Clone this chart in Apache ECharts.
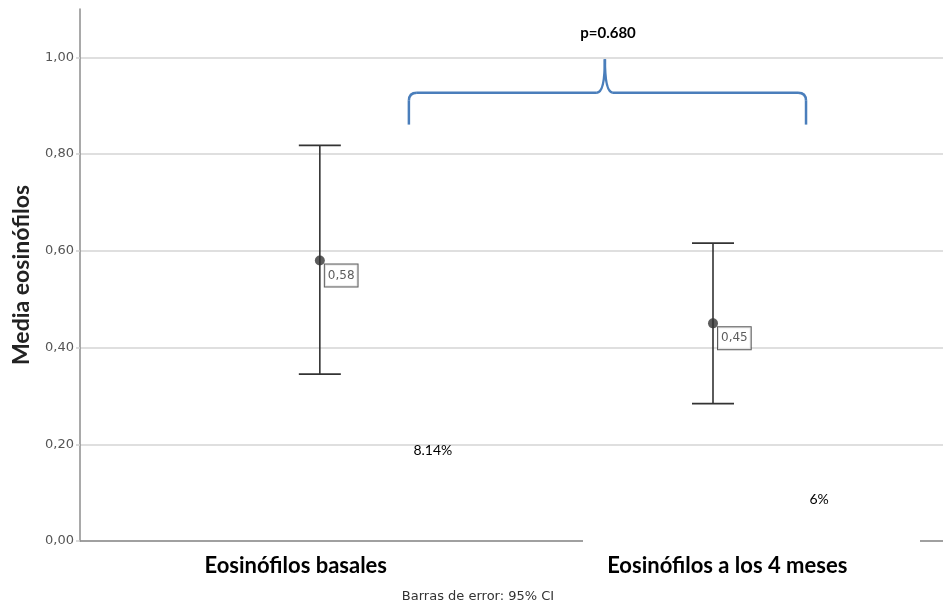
<!DOCTYPE html>
<html><head><meta charset="utf-8">
<script src="https://cdn.jsdelivr.net/npm/echarts@6/dist/echarts.min.js"></script>
<style>html,body{margin:0;padding:0;background:#fff}#c{width:943px;height:607px}</style>
</head><body><div id="c"></div><script>
// ---- data ----
const categories = ['Eosinófilos basales', 'Eosinófilos a los 4 meses'];
const pointPos = [1, 2];              // position of each group on the hidden point axis
const means = [0.58, 0.45];
const ciLow = [0.345, 0.284];
const ciHigh = [0.818, 0.616];
const meanLabels = ['0,58', '0,45'];
const yMin = 0, yMax = 1.1, yStep = 0.2;
const notes = ['8.14%', '6%'];
const notePos = [[1.2875, 0.187], [2.27, 0.085]];
const pText = 'p=0.680';
const pPos = [1.733, 1.05];
const braceX = [1.2265, 1.725, 2.2366]; // left, centre, right
const braceY = [0.861, 0.927, 0.996];   // ends, bar, tip
const footnote = 'Barras de error: 95% CI';
const yTitle = 'Media eosinófilos';

const chart = echarts.init(document.getElementById('c'), null, {renderer: 'canvas'});
const errData = pointPos.map((p, i) => [p, ciLow[i], ciHigh[i]]);
const dotData = pointPos.map((p, i) => ({value: [p, means[i]], label: {formatter: meanLabels[i]}}));

chart.setOption({
  animation: false,
  grid: {left: 80, right: 0, top: 9, bottom: 66},
  xAxis: [{
    type: 'category', data: categories, boundaryGap: true,
    axisLine: {lineStyle: {color: '#8c8c8c', width: 1.5}},
    axisTick: {show: false},
    axisLabel: {color: '#000', fontFamily: 'Lato', fontWeight: 'bold', fontSize: 22, margin: 14}
  }, {
    type: 'value', min: 0.39, max: 2.585, show: false
  }],
  yAxis: {
    type: 'value', min: yMin, max: yMax, interval: yStep,
    name: yTitle, nameLocation: 'middle', nameGap: 47, nameRotate: 90,
    nameTextStyle: {color: '#222', fontFamily: 'Lato', fontWeight: 'bold', fontSize: 23},
    axisLine: {show: true, lineStyle: {color: '#8c8c8c', width: 1.5}},
    axisTick: {show: true, length: 4, lineStyle: {color: '#cfcfcf', width: 1.5}},
    axisLabel: {color: '#555', fontFamily: 'DejaVu Sans', fontSize: 13, margin: 6,
      showMaxLabel: false,
      formatter: v => v > 1.05 ? '' : v.toFixed(2).replace('.', ',')},
    splitLine: {show: true, showMaxLine: false, lineStyle: {color: '#d4d4d4', width: 1.5}}
  },
  series: [{
    type: 'custom', xAxisIndex: 1, data: errData,
    renderItem: (params, api) => {
      const top = api.coord([api.value(0), api.value(2)]);
      const bot = api.coord([api.value(0), api.value(1)]);
      const hw = 21;
      const st = {stroke: '#333', lineWidth: 1.6};
      return {type: 'group', children: [
        {type: 'line', shape: {x1: top[0], y1: top[1], x2: bot[0], y2: bot[1]}, style: st},
        {type: 'line', shape: {x1: top[0]-hw, y1: top[1], x2: top[0]+hw, y2: top[1]}, style: st},
        {type: 'line', shape: {x1: bot[0]-hw, y1: bot[1], x2: bot[0]+hw, y2: bot[1]}, style: st}
      ]};
    }
  }, {
    type: 'scatter', xAxisIndex: 1, data: dotData, symbolSize: 10, z: 5,
    itemStyle: {color: '#333'},
    label: {show: true, position: [10, 9], color: '#333', fontFamily: 'DejaVu Sans', fontSize: 12,
      backgroundColor: '#fff', borderColor: '#333', borderWidth: 1, padding: [5, 3, 5, 3]}
  }]
});

function px(x, y) { return chart.convertToPixel({xAxisIndex: 1, yAxisIndex: 0}, [x, y]); }
const L = px(braceX[0], braceY[0]), C = px(braceX[1], braceY[2]), R = px(braceX[2], braceY[0]);
const yb = px(braceX[0], braceY[1])[1];
const r = 8;
const bs = {stroke: '#4a7ebb', lineWidth: 2.5, fill: null};
const graphics = [
  {type: 'line', shape: {x1: L[0], y1: L[1], x2: L[0], y2: yb + r}, style: bs, z: 10},
  {type: 'bezierCurve', shape: {x1: L[0], y1: yb + r, cpx1: L[0], cpy1: yb, x2: L[0] + r, y2: yb}, style: bs, z: 10},
  {type: 'line', shape: {x1: L[0] + r, y1: yb, x2: C[0] - r, y2: yb}, style: bs, z: 10},
  {type: 'bezierCurve', shape: {x1: C[0] - r, y1: yb, cpx1: C[0], cpy1: yb, x2: C[0], y2: C[1]}, style: bs, z: 10},
  {type: 'bezierCurve', shape: {x1: C[0], y1: C[1], cpx1: C[0], cpy1: yb, x2: C[0] + r, y2: yb}, style: bs, z: 10},
  {type: 'line', shape: {x1: C[0] + r, y1: yb, x2: R[0] - r, y2: yb}, style: bs, z: 10},
  {type: 'bezierCurve', shape: {x1: R[0] - r, y1: yb, cpx1: R[0], cpy1: yb, x2: R[0], y2: yb + r}, style: bs, z: 10},
  {type: 'line', shape: {x1: R[0], y1: yb + r, x2: R[0], y2: R[1]}, style: bs, z: 10},
  {type: 'rect', shape: {x: 583, y: 537, width: 337, height: 8}, style: {fill: '#fff'}, z: 10}
];
const P = px(pPos[0], pPos[1]);
graphics.push({type: 'text', x: P[0], y: P[1], style: {text: pText, fill: '#000', font: 'bold 15px Lato', textAlign: 'center', textVerticalAlign: 'middle'}, z: 10});
graphics.push({type: 'text', x: 478, y: 597, style: {text: footnote, fill: '#333', font: '13px "DejaVu Sans"', textAlign: 'center', textVerticalAlign: 'middle'}, z: 10});
notes.forEach((t, i) => {
  const q = px(notePos[i][0], notePos[i][1]);
  graphics.push({type: 'text', x: q[0], y: q[1], style: {text: t, fill: '#000', font: '14px Lato', textAlign: 'center', textVerticalAlign: 'middle'}, z: 10});
});
chart.setOption({graphic: graphics});
</script></body></html>
